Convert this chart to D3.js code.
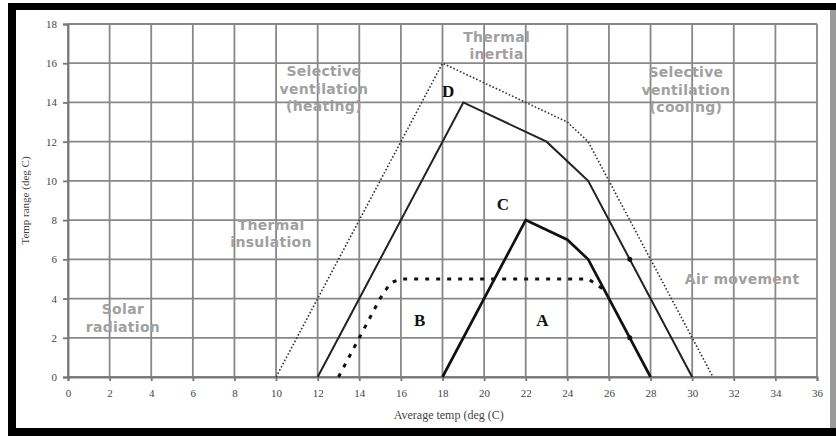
<!DOCTYPE html>
<html>
<head>
<meta charset="utf-8">
<script src="https://cdn.jsdelivr.net/npm/d3@7"></script>
<style>
  body { margin: 0; background: #fff; }
  svg { display: block; }
</style>
</head>
<body>
<div id="chart"></div>
<script>
// series (x = average temp, y = temp range)
var envelope = [[10, 0], [18, 16], [24, 13], [25, 12], [31, 0]];
var lineD = [[12, 0], [19, 14], [23, 12], [25, 10], [30, 0]];
var lineC = [[18, 0], [22, 8], [24, 7], [25, 6], [28, 0]];
var lineB = [[13, 0], [14, 2], [15, 4], [15.5, 4.8], [16, 5], [25, 5], [25.7, 4.5]];
var markersD = [[27, 6]];
var markersC = [[27, 2]];

var xTicks = d3.range(0, 37, 2);
var yTicks = d3.range(0, 19, 2);

var zoneNames = [["Thermal", "inertia"], ["Selective", "ventilation", "(heating)"],
    ["Selective", "ventilation", "(cooling)"], ["Thermal", "insulation"],
    ["Solar", "radiation"], ["Air movement"]];
var zoneAt = [[20.6, 16.9], [12.3, 14.7], [29.7, 14.65], [9.76, 7.3], [2.64, 3.0], [32.4, 5.0]];
var letterNames = ["D", "C", "B", "A"];
var letterAt = [[18.27, 14.6], [20.9, 8.8], [16.9, 2.9], [22.8, 2.9]];

var W = 836, H = 436;
var svg = d3.select("#chart").append("svg")
    .attr("width", W)
    .attr("height", H);

// frame round the picture
svg.append("rect").attr("x", 8).attr("y", 3).attr("width", W - 8).attr("height", 7).attr("fill", "#000");
svg.append("rect").attr("x", 8).attr("y", 3).attr("width", 8).attr("height", H - 3).attr("fill", "#000");
svg.append("rect").attr("x", 8).attr("y", 428).attr("width", W - 8).attr("height", 8).attr("fill", "#000");
svg.append("rect").attr("x", 830).attr("y", 10).attr("width", 6).attr("height", 418).attr("fill", "#9a9a9a");

var x = d3.scaleLinear().domain([0, 36]).range([68, 817]);
var y = d3.scaleLinear().domain([0, 18]).range([377, 24]);

// grid
svg.append("g").selectAll("line")
    .data(xTicks)
    .enter().append("line")
    .attr("x1", d => x(d)).attr("x2", d => x(d))
    .attr("y1", y(0)).attr("y2", y(18))
    .attr("stroke", "#888").attr("stroke-width", 1.8);

svg.append("g").selectAll("line")
    .data(yTicks)
    .enter().append("line")
    .attr("x1", x(0)).attr("x2", x(36))
    .attr("y1", d => y(d)).attr("y2", d => y(d))
    .attr("stroke", "#888").attr("stroke-width", 1.8);

// axes
var xAxis = svg.append("g")
    .attr("transform", "translate(0," + y(0) + ")")
    .call(d3.axisBottom(x).tickValues(xTicks).tickSize(4).tickPadding(8));

var yAxis = svg.append("g")
    .attr("transform", "translate(" + x(0) + ",0)")
    .call(d3.axisLeft(y).tickValues(yTicks).tickSize(5).tickPadding(6));

[xAxis, yAxis].forEach(function(a) {
    a.select(".domain").attr("stroke", "#777").attr("stroke-width", 1.8);
    a.selectAll(".tick line").attr("stroke", "#777").attr("stroke-width", 1.8);
    a.selectAll("text")
        .attr("fill", "#444")
        .style("font-family", "'Liberation Serif', serif")
        .style("font-size", "11px");
});

svg.append("text")
    .attr("x", x(18.3))
    .attr("y", 419)
    .attr("text-anchor", "middle")
    .attr("fill", "#444")
    .style("font-family", "'Liberation Serif', serif")
    .style("font-size", "12px")
    .text("Average temp (deg (C)");

svg.append("text")
    .attr("transform", "translate(29," + y(9) + ") rotate(-90)")
    .attr("text-anchor", "middle")
    .attr("fill", "#444")
    .style("font-family", "'Liberation Serif', serif")
    .style("font-size", "11px")
    .text("Temp range (deg C)");

// zone labels
zoneNames.forEach(function(lines, i) {
    var t = svg.append("text")
        .attr("text-anchor", "middle")
        .attr("fill", "#a0a0a0")
        .style("font-family", "'DejaVu Sans', sans-serif")
        .style("font-weight", "bold")
        .style("font-size", "14px")
        .style("letter-spacing", "0.3px");
    var top = y(zoneAt[i][1]) - (lines.length - 1) * 17.5 / 2;
    lines.forEach(function(s, j) {
        t.append("tspan")
            .attr("x", x(zoneAt[i][0]))
            .attr("y", top + j * 17.5)
            .attr("dy", "0.35em")
            .text(s);
    });
});

// curves
var line = d3.line().x(d => x(d[0])).y(d => y(d[1]));

svg.append("path").datum(envelope)
    .attr("d", line).attr("fill", "none")
    .attr("stroke", "#333").attr("stroke-width", 1.6)
    .attr("stroke-dasharray", "1.6,2");

svg.append("path").datum(lineD)
    .attr("d", line).attr("fill", "none")
    .attr("stroke", "#222").attr("stroke-width", 2);

svg.append("path").datum(lineC)
    .attr("d", line).attr("fill", "none")
    .attr("stroke", "#111").attr("stroke-width", 2.7);

svg.append("path").datum(lineB)
    .attr("d", line).attr("fill", "none")
    .attr("stroke", "#111").attr("stroke-width", 3)
    .attr("stroke-dasharray", "4,7");

svg.append("g").selectAll("circle")
    .data(markersD.concat(markersC))
    .enter().append("circle")
    .attr("cx", d => x(d[0])).attr("cy", d => y(d[1]))
    .attr("r", 2.5).attr("fill", "#111");

// curve letters
svg.append("g").selectAll("text")
    .data(letterNames)
    .enter().append("text")
    .attr("x", (d, i) => x(letterAt[i][0]))
    .attr("y", (d, i) => y(letterAt[i][1]))
    .attr("dy", "0.35em")
    .attr("text-anchor", "middle")
    .attr("fill", "#111")
    .style("font-family", "'Liberation Serif', serif")
    .style("font-weight", "bold")
    .style("font-size", "17px")
    .text(d => d);
</script>
</body>
</html>
